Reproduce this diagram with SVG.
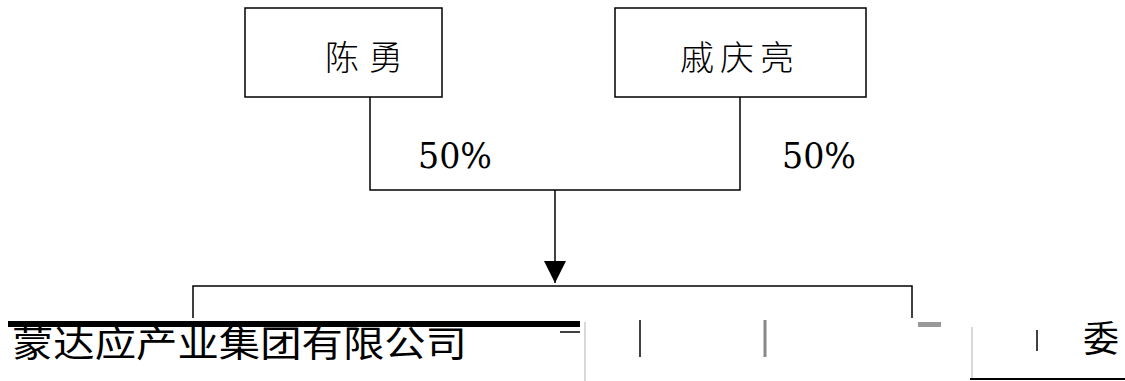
<svg xmlns="http://www.w3.org/2000/svg" width="1125" height="381" viewBox="0 0 1125 381">
<style>
.box{fill:#fff;stroke:#000;stroke-width:1.5}
.ln{fill:none;stroke:#000;stroke-width:1.5}
.cjk{font-family:"Noto Sans CJK SC","Liberation Serif",serif;font-size:34px;font-weight:300;fill:#000}
.pct{font-family:"DejaVu Serif",serif;font-size:36px;fill:#000}
</style>
<defs>
<marker id="arr" viewBox="0 0 10 10" refX="10" refY="5" markerWidth="24" markerHeight="22" markerUnits="userSpaceOnUse" orient="auto">
<path d="M0,0 L10,5 L0,10 z" fill="#000"/>
</marker>
</defs>
<rect width="1125" height="381" fill="#fff"/>
<g id="n1">
<rect class="box" x="245" y="8" width="197" height="89"/>
<text class="cjk" x="369" y="70" text-anchor="middle" letter-spacing="10">陈勇</text>
</g>
<g id="n2">
<rect class="box" x="615" y="8" width="251" height="89"/>
<text class="cjk" x="740" y="70" text-anchor="middle" letter-spacing="6">戚庆亮</text>
</g>
<g id="connectors">
<polyline class="ln" points="370,97 370,190 740,190 740,97"/>
<line class="ln" x1="555" y1="190" x2="555" y2="283" marker-end="url(#arr)"/>
<polyline class="ln" points="193,318 193,286 912,286 912,318"/>
</g>
<g id="labels">
<text class="pct" x="418" y="168" textLength="74" lengthAdjust="spacingAndGlyphs">50%</text>
<text class="pct" x="782" y="168" textLength="74" lengthAdjust="spacingAndGlyphs">50%</text>
</g>
<g id="n3">
<rect x="8" y="321" width="572" height="6" fill="#000"/>
<line x1="560" y1="332" x2="580" y2="332" stroke="#000" stroke-width="1.5"/>
<text x="12" y="357" font-family="Noto Sans CJK SC,Liberation Serif,serif" font-size="36" fill="#000" textLength="455" lengthAdjust="spacingAndGlyphs">蒙达应产业集团有限公司</text>
<line x1="585" y1="322" x2="585" y2="381" stroke="#ccc" stroke-width="1.5"/>
<line x1="640" y1="320" x2="640" y2="357" stroke="#000" stroke-width="1.5"/>
<line x1="765" y1="320" x2="765" y2="357" stroke="#888" stroke-width="3"/>
<rect x="918" y="322" width="23" height="5" fill="#999"/>
<line x1="972" y1="327" x2="972" y2="379" stroke="#ccc" stroke-width="1.5"/>
<line x1="970" y1="379" x2="1125" y2="379" stroke="#000" stroke-width="2"/>
<line x1="1037" y1="330" x2="1037" y2="351" stroke="#000" stroke-width="1.5"/>
<text x="1083" y="352" font-family="Noto Sans CJK SC,Liberation Serif,serif" font-size="36" fill="#000">委</text>
</g>
</svg>
